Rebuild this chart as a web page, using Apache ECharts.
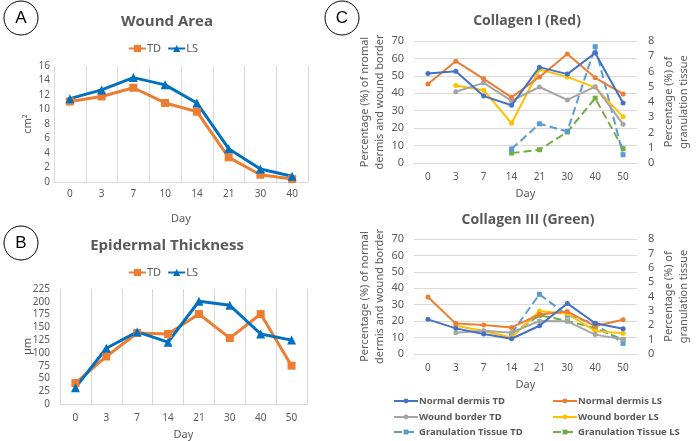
<!DOCTYPE html>
<html><head><meta charset="utf-8">
<script src="https://cdn.jsdelivr.net/npm/echarts@6/dist/echarts.min.js"></script>
<style>html,body{margin:0;padding:0;background:#fff}#c{width:696px;height:441px}</style>
</head><body><div id="c"></div>
<script>
// ---- Data ----
const daysA = ['0','3','7','10','14','21','30','40'];
const areaTD = [11.1, 11.8, 13.0, 10.9, 9.7, 3.4, 1.0, 0.4];
const areaLS = [11.5, 12.7, 14.4, 13.4, 10.9, 4.6, 1.8, 0.8];

const daysB = ['0','3','7','14','21','30','40','50'];
const thickTD = [41, 93, 139, 137, 176, 129, 176, 75];
const thickLS = [32, 109, 141, 121, 201, 193, 137, 125];

const daysC = ['0','3','7','14','21','30','40','50'];
// Collagen I (Red)
const c1NormalTD = [51.4, 52.7, 38.4, 33.1, 55.0, 51.0, 63.1, 34.4];
const c1NormalLS = [45.3, 58.4, 48.3, 37.7, 49.4, 62.6, 48.9, 39.6];
const c1BorderTD = [null, 40.9, 46.0, 35.6, 43.6, 36.2, 43.8, 22.3];
const c1BorderLS = [null, 44.5, 41.8, 22.8, 53.6, 49.4, 43.4, 26.6];
const c1GranTD = [null, null, null, 0.92, 2.57, 2.07, 7.63, 0.54];
const c1GranLS = [null, null, null, 0.65, 0.87, 2.03, 4.25, 0.94];
// Collagen III (Green)
const c3NormalTD = [21.1, 15.6, 12.2, 9.3, 17.2, 30.8, 18.7, 15.4];
const c3NormalLS = [34.7, 18.5, 17.6, 16.2, 24.1, 25.8, 17.0, 20.9];
const c3BorderTD = [null, 13.0, 14.2, 13.0, 20.1, 19.9, 11.8, 8.9];
const c3BorderLS = [null, 17.2, 14.0, 10.1, 26.2, 24.5, 14.0, 12.6];
const c3GranTD = [null, null, null, 1.44, 4.15, 2.7, 2.1, 0.74];
const c3GranLS = [null, null, null, 1.39, 2.7, 2.3, 1.8, 1.0];

const seriesNames = ['Normal dermis TD','Normal dermis LS','Wound border TD','Wound border LS','Granulation Tissue TD','Granulation Tissue LS'];

// ---- Styles ----
const txt = '#595959';
const grid = '#D9D9D9';
const font = 'Noto Sans';
const cOrange = '#ED7D31', cBlue = '#0070C0';
const colC = ['#4472C4','#ED7D31','#A5A5A5','#FFC000','#5B9BD5','#70AD47'];

const chart = echarts.init(document.getElementById('c'));

function catAxis(gi, data, splitShow, margin, nameGap){
  return {type:'category', gridIndex:gi, data:data, boundaryGap:true,
    axisLine:{lineStyle:{color:grid}}, axisTick:{show:false},
    axisLabel:{color:txt, fontSize:10, fontFamily:font, margin:margin},
    splitLine:{show:splitShow, lineStyle:{color:grid}},
    name:'Day', nameLocation:'middle', nameGap:nameGap,
    nameTextStyle:{color:txt, fontSize:11, fontFamily:font}};
}
function valAxis(gi, max, interval, opts){
  return Object.assign({type:'value', gridIndex:gi, min:0, max:max, interval:interval,
    axisLine:{show:false}, axisTick:{show:false},
    axisLabel:{color:txt, fontSize:10, fontFamily:font},
    splitLine:{show:false},
    nameLocation:'middle', nameTextStyle:{color:txt, fontSize:11, fontFamily:font, lineHeight:15}}, opts||{});
}

const cStyles = [
  {symbol:'circle', type:'solid'},{symbol:'circle', type:'solid'},
  {symbol:'circle', type:'solid'},{symbol:'circle', type:'solid'},
  {symbol:'rect', type:'dashed'},{symbol:'rect', type:'dashed'}
];
function cSeries(arrs, xi, yL, yR){
  return arrs.map((d,i)=>({
    name:seriesNames[i], type:'line', xAxisIndex:xi, yAxisIndex:(i>=4? yR : yL),
    data:d, symbol:cStyles[i].symbol, symbolSize:5, showSymbol:true,
    lineStyle:{color:colC[i], width:2, type:cStyles[i].type},
    itemStyle:{color:colC[i]}, connectNulls:false, z:10-i
  }));
}

// legend for panel C: 3 rows x 2 columns, one legend per item
const legRowsTop = [396, 412, 427];
const legColsLeft = [393, 552];
const legendC = seriesNames.map((n,i)=>({
  data:[n], left:legColsLeft[i%2], top:legRowsTop[Math.floor(i/2)], padding:0,
  itemWidth:24, itemHeight:6,
  textStyle:{color:txt, fontSize:9.5, fontWeight:'bold', fontFamily:font, padding:[0,0,0,-4]}
}));

const option = {
  animation:false,
  textStyle:{fontFamily:font},
  title:[
    {text:'Wound Area', left:162, top:9, textAlign:'center', textStyle:{color:txt, fontSize:15, fontWeight:'bold', fontFamily:'Open Sans'}},
    {text:'Epidermal Thickness', left:162, top:233, textAlign:'center', textStyle:{color:txt, fontSize:15, fontWeight:'bold', fontFamily:'Open Sans'}},
    {text:'Collagen I (Red)', left:522, top:9, textAlign:'center', textStyle:{color:txt, fontSize:14, fontWeight:'bold', fontFamily:'Open Sans'}},
    {text:'Collagen III (Green)', left:523, top:208, textAlign:'center', textStyle:{color:txt, fontSize:14, fontWeight:'bold', fontFamily:'Open Sans'}}
  ],
  legend:[
    {data:['TD','LS'], left:123, top:38, itemWidth:17, itemHeight:9, itemGap:6,
      textStyle:{color:txt, fontSize:11, fontFamily:font, padding:[0,0,0,-4]}},
    {data:['TD','LS'], left:123, top:262, itemWidth:17, itemHeight:9, itemGap:6,
      textStyle:{color:txt, fontSize:11, fontFamily:font, padding:[0,0,0,-4]}},
    ...legendC
  ],
  grid:[
    {left:54, top:66, width:254, height:116},
    {left:60, top:289, width:247, height:116},
    {left:414, top:41, width:223, height:122},
    {left:414, top:239, width:223, height:115}
  ],
  xAxis:[
    catAxis(0, daysA, true, 7, 31),
    catAxis(1, daysB, true, 9, 25),
    catAxis(2, daysC, false, 9, 25),
    catAxis(3, daysC, false, 9, 25)
  ],
  yAxis:[
    valAxis(0, 16, 2, {name:'cm²', nameGap:19, nameMoveOverlap:false, axisLabel:{color:txt, fontSize:10, fontFamily:font, margin:4}}),
    valAxis(1, 225, 25, {name:'µm', nameGap:25, nameMoveOverlap:false, axisLabel:{color:txt, fontSize:10, fontFamily:font, margin:10}}),
    valAxis(2, 70, 10, {name:'Percentage (%) of nromal\ndermis and wound border', nameGap:26,
      axisLabel:{color:txt, fontSize:11, fontFamily:font, margin:10}, splitLine:{show:true, lineStyle:{color:grid}}}),
    valAxis(2, 8, 1, {position:'right', name:'Percentage (%) of\ngranulation tissue', nameGap:24,
      axisLabel:{color:txt, fontSize:11, fontFamily:font, margin:11}}),
    valAxis(3, 70, 10, {name:'Percentage (%) of normal\ndermis and wound border', nameGap:26,
      axisLabel:{color:txt, fontSize:11, fontFamily:font, margin:10}, splitLine:{show:true, lineStyle:{color:grid}}}),
    valAxis(3, 8, 1, {position:'right', name:'Percentage (%) of\ngranulation tissue', nameGap:24,
      axisLabel:{color:txt, fontSize:11, fontFamily:font, margin:11}})
  ],
  series:[
    {name:'TD', type:'line', xAxisIndex:0, yAxisIndex:0, data:areaTD, symbol:'rect', symbolSize:8,
      lineStyle:{color:cOrange, width:3}, itemStyle:{color:cOrange}},
    {name:'LS', type:'line', xAxisIndex:0, yAxisIndex:0, data:areaLS, symbol:'triangle', symbolSize:9,
      lineStyle:{color:cBlue, width:3}, itemStyle:{color:cBlue}},
    {name:'TD', type:'line', xAxisIndex:1, yAxisIndex:1, data:thickTD, symbol:'rect', symbolSize:8,
      lineStyle:{color:cOrange, width:3}, itemStyle:{color:cOrange}},
    {name:'LS', type:'line', xAxisIndex:1, yAxisIndex:1, data:thickLS, symbol:'triangle', symbolSize:9,
      lineStyle:{color:cBlue, width:3}, itemStyle:{color:cBlue}},
    ...cSeries([c1NormalTD,c1NormalLS,c1BorderTD,c1BorderLS,c1GranTD,c1GranLS], 2, 2, 3),
    ...cSeries([c3NormalTD,c3NormalLS,c3BorderTD,c3BorderLS,c3GranTD,c3GranLS], 3, 4, 5)
  ],
  graphic:[
    {type:'circle', shape:{cx:21, cy:18, r:17}, style:{fill:'#fff', stroke:'#000', lineWidth:1}},
    {type:'text', x:21, y:18, style:{text:'A', fill:'#000', font:'17px "Liberation Sans"', textAlign:'center', textVerticalAlign:'middle'}},
    {type:'circle', shape:{cx:21, cy:243, r:17}, style:{fill:'#fff', stroke:'#000', lineWidth:1}},
    {type:'text', x:21, y:243, style:{text:'B', fill:'#000', font:'17px "Liberation Sans"', textAlign:'center', textVerticalAlign:'middle'}},
    {type:'circle', shape:{cx:342, cy:18, r:17}, style:{fill:'#fff', stroke:'#000', lineWidth:1}},
    {type:'text', x:342, y:18, style:{text:'C', fill:'#000', font:'17px "Liberation Sans"', textAlign:'center', textVerticalAlign:'middle'}}
  ]
};
chart.setOption(option);
</script></body></html>
